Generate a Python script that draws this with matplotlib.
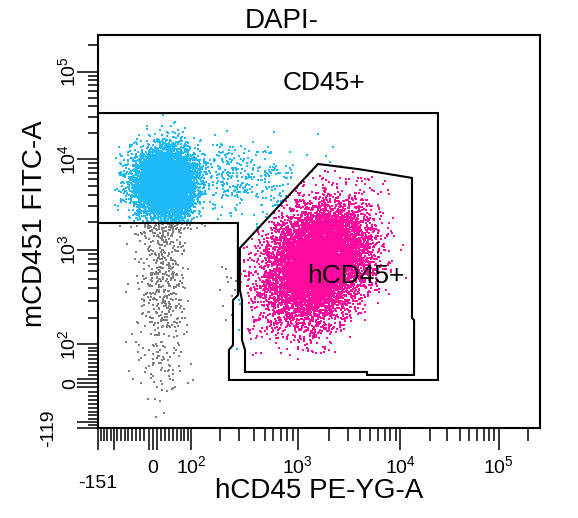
import numpy as np
import matplotlib
matplotlib.use("Agg")
import matplotlib.pyplot as plt
from matplotlib.path import Path
from matplotlib.patches import Polygon

plt.rcParams['font.family'] = ['Liberation Sans', 'DejaVu Sans']
plt.rcParams['mathtext.fontset'] = 'custom'
plt.rcParams['mathtext.rm'] = 'Liberation Sans'
plt.rcParams['mathtext.default'] = 'regular'

# axis ranges (biexponential display)
T_TOP = 262144
DECADES = 4.5
X_MIN = -151
Y_MIN = -119

# event populations: count, centre, spread
# (spread is in decades when *_log is True, in raw units otherwise)
pop_names = ['mouse', 'mouse_low', 'mouse_neg', 'transit', 'human']
pop_count = [6000, 450, 55, 420, 10000]
pop_x_center = [30, 25, 25, 250, 1550]
pop_x_spread = [39, 30, 30, 0.32, 0.24]
pop_x_log = [False, False, False, True, True]
pop_y_center = [5400, 500, 20, 6000, 740]
pop_y_spread = [0.20, 0.42, 45, 0.20, 0.30]
pop_y_log = [True, True, False, True, True]
pop_corr = [0.0, 0.0, 0.0, 0.0, 0.25]

# gates
cd45_gate_x = [X_MIN, 24100, 24100, 242, 242, 263, 263, 291, 291, X_MIN]
cd45_gate_y = [33600, 33600, 7.7, 7.7, 84, 98, 304, 340, 1939, 1939]
hcd45_gate_x = [303, 1553, 3980, 13170, 13170, 13820, 13820, 4670, 4670,
                336, 336, 316, 316, 303]
hcd45_gate_y = [1041, 8848, 7700, 6156, 200, 190, 19.6, 19.6, 26.8,
                26.8, 84, 114, 304, 383]

# ticks
x_major = [X_MIN, -100, -10, 0, 10, 100, 1e3, 1e4, 1e5]
x_major_labels = ['', '', '', '0', '', '$10^{2}$', '$10^{3}$', '$10^{4}$', '$10^{5}$']
y_major = [Y_MIN, -100, -10, 0, 10, 100, 1e3, 1e4, 1e5]
y_major_labels = x_major_labels
log_minor = [k * 10 ** e for e in (2, 3, 4) for k in range(2, 10)] + [2e5]
x_minor = [v for v in range(-140, 100, 10) if v not in (-100, -10, 0, 10)] + log_minor
y_minor = [v for v in range(-110, 100, 10) if v not in (-100, -10, 0, 10)] + log_minor

COL_GREY = '#808080'
COL_BLUE = '#1EBAF8'
COL_PINK = '#FF0A9E'


def logicle_scale(t_top, decades, bottom):
    """forward/inverse pair for a logicle axis whose low end is `bottom`"""
    m = decades * np.log(10.0)

    def p_of(w):
        lo, hi = 1.0 + 1e-9, 1e3
        for _ in range(200):
            mid = 0.5 * (lo + hi)
            if 2 * mid * np.log(mid) / (mid + 1) < w:
                lo = mid
            else:
                hi = mid
        return 0.5 * (lo + hi)

    def s_of(X, w, p):
        u = np.asarray(X, float) - w
        a = np.abs(u)
        return np.sign(u) * t_top * np.exp(-(m - w)) * (
            np.exp(a) - p * p * np.exp(-a / p) + p * p - 1)

    lo, hi = 1e-3, 3.0
    for _ in range(200):
        w = 0.5 * (lo + hi)
        if -s_of(0.0, w, p_of(w)) < -bottom:
            lo = w
        else:
            hi = w
    p = p_of(w)
    grid = np.linspace(-1.0, m + 1.0, 40001)
    vals = s_of(grid, w, p)

    def forward(v):
        return np.interp(v, vals, grid) / m

    def inverse(f):
        return s_of(np.asarray(f) * m, w, p)

    return forward, inverse


fig = plt.figure(figsize=(5.78, 5.18), dpi=100)
ax = fig.add_axes([98 / 578, (518 - 428) / 518, 442 / 578, 393 / 518])
ax.set_xscale('function', functions=logicle_scale(T_TOP, DECADES, X_MIN))
ax.set_yscale('function', functions=logicle_scale(T_TOP, DECADES, Y_MIN))
ax.set_xlim(X_MIN, T_TOP)
ax.set_ylim(Y_MIN, T_TOP)

# events
rng = np.random.default_rng(11)
xs, ys = [], []
for n, xc, xsd, xl, yc, ysd, yl, r in zip(pop_count, pop_x_center, pop_x_spread,
                                          pop_x_log, pop_y_center, pop_y_spread,
                                          pop_y_log, pop_corr):
    z1 = rng.standard_normal(n)
    z2 = rng.standard_normal(n)
    zy = r * z1 + np.sqrt(1 - r * r) * z2
    xs.append(xc * 10 ** (xsd * z1) if xl else xc + xsd * z1)
    ys.append(yc * 10 ** (ysd * zy) if yl else yc + ysd * zy)
xs = np.concatenate(xs)
ys = np.concatenate(ys)

pts = ax.transData.transform(np.column_stack([xs, ys]))
in_cd45 = Path(ax.transData.transform(np.column_stack([cd45_gate_x, cd45_gate_y]))).contains_points(pts)
in_h = Path(ax.transData.transform(np.column_stack([hcd45_gate_x, hcd45_gate_y]))).contains_points(pts)
grey = ~in_cd45 & ~in_h
blue = in_cd45 & ~in_h

ax.scatter(xs[grey], ys[grey], s=2.2, marker='s', c=COL_GREY, linewidths=0)
ax.scatter(xs[blue], ys[blue], s=2.2, marker='s', c=COL_BLUE, linewidths=0)
ax.scatter(xs[in_h], ys[in_h], s=2.2, marker='s', c=COL_PINK, linewidths=0)

ax.add_patch(Polygon(np.column_stack([cd45_gate_x, cd45_gate_y]), closed=True,
                     fill=False, ec='black', lw=1.5))
ax.add_patch(Polygon(np.column_stack([hcd45_gate_x, hcd45_gate_y]), closed=True,
                     fill=False, ec='black', lw=1.5))

ax.text(0.511, 0.860, 'CD45+', transform=ax.transAxes, ha='center',
        va='baseline', fontsize=19)
ax.text(0.584, 0.369, 'hCD45+', transform=ax.transAxes, ha='center',
        va='baseline', fontsize=19)

# axes frame and ticks
for sp in ax.spines.values():
    sp.set_linewidth(1.5)
ax.set_xticks(x_major, x_major_labels, va='baseline')
ax.set_xticks(x_minor, minor=True)
ax.set_yticks(y_major, y_major_labels, rotation=90, rotation_mode='anchor',
              ha='center', va='baseline')
ax.set_yticks(y_minor, minor=True)
ax.tick_params(axis='x', which='major', length=16, width=1.1, pad=16.5, labelsize=14)
ax.tick_params(axis='x', which='minor', length=9, width=1.1)
ax.tick_params(axis='y', which='major', length=15, width=1.1, pad=1.5, labelsize=14)
ax.tick_params(axis='y', which='minor', length=7, width=1.1)

ax.annotate('-151', xy=(X_MIN, 0), xycoords=('data', 'axes fraction'),
            xytext=(0, -43), textcoords='offset points', ha='center',
            va='baseline', fontsize=14)
ax.annotate('-119', xy=(0, Y_MIN), xycoords=('axes fraction', 'data'),
            xytext=(-32.4, 0), textcoords='offset points', rotation=90,
            rotation_mode='anchor', ha='center', va='baseline', fontsize=14)

fig.text(282 / 578, 1 - 28 / 518, 'DAPI-', ha='center', va='baseline', fontsize=20)
fig.text(319 / 578, 1 - 498 / 518, 'hCD45 PE-YG-A', ha='center', va='baseline',
         fontsize=20)
fig.text(42 / 578, 1 - 224 / 518, 'mCD451 FITC-A', rotation=90,
         rotation_mode='anchor', ha='center', va='baseline', fontsize=20)

fig.savefig('out.png', dpi=100)
